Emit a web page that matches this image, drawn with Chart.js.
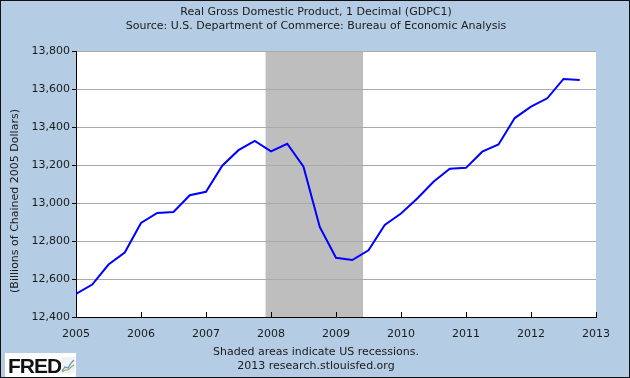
<!DOCTYPE html>
<html>
<head>
<meta charset="utf-8">
<script src="https://cdn.jsdelivr.net/npm/chart.js@4.4.1/dist/chart.umd.min.js"></script>
<style>
  html, body { margin: 0; padding: 0; background: #b4cde4; }
  #wrap { position: relative; width: 630px; height: 378px; box-sizing: border-box; border: 1px solid #111; background: #b4cde4; overflow: hidden; }
  #c { position: absolute; left: -1px; top: -1px; }
  .txt { position: absolute; left: 0; width: 630px; text-align: center; font-family: "DejaVu Sans", Verdana, sans-serif; font-size: 11px; color: #1a1a1a; line-height: 13px; white-space: nowrap; }
  #logo { position: absolute; left: 4px; top: 352px; width: 71px; height: 24px; background: #fff; }
  #logo span { position: absolute; left: 3px; top: 1px; font-family: "Liberation Sans", Arial, sans-serif; font-weight: bold; font-size: 21px; letter-spacing: -1px; color: #111; }
</style>
</head>
<body>
<div id="wrap">
  <canvas id="c" width="630" height="378"></canvas>
  <div class="txt" style="top:4px">Real Gross Domestic Product, 1 Decimal (GDPC1)</div>
  <div class="txt" style="top:18px">Source: U.S. Department of Commerce: Bureau of Economic Analysis</div>
  <div class="txt" style="top:344px">Shaded areas indicate US recessions.</div>
  <div class="txt" style="top:358px">2013 research.stlouisfed.org</div>
  <div id="logo"><span>FRED</span>
    <svg style="position:absolute;left:56px;top:4px" width="14" height="16" viewBox="0 0 14 16">
      <rect x="0" y="0" width="14" height="16" fill="#eef3f6"/>
      <polyline points="1,14 4,10 7,11 10,6 13,3" fill="none" stroke="#6a8fb5" stroke-width="1.2"/>
      <polyline points="1,15 4,13 7,13 10,10 13,8" fill="none" stroke="#8ab060" stroke-width="1.2"/>
    </svg>
  </div>
</div>
<script>
// Quarterly observations (decimal year of quarter start)
const quarters = [
  2005.00, 2005.25, 2005.50, 2005.75,
  2006.00, 2006.25, 2006.50, 2006.75,
  2007.00, 2007.25, 2007.50, 2007.75,
  2008.00, 2008.25, 2008.50, 2008.75,
  2009.00, 2009.25, 2009.50, 2009.75,
  2010.00, 2010.25, 2010.50, 2010.75,
  2011.00, 2011.25, 2011.50, 2011.75,
  2012.00, 2012.25, 2012.50, 2012.75
];
const gdp = [
  12522, 12571, 12676, 12739,
  12895, 12948, 12953, 13041,
  13059, 13196, 13278, 13327,
  13272, 13312, 13191, 12874,
  12712, 12700, 12751, 12885,
  12945, 13024, 13112, 13180,
  13185, 13270, 13308, 13447,
  13507, 13551, 13653, 13648
];
const yTicks = [12400, 12600, 12800, 13000, 13200, 13400, 13600, 13800];
const xTicks = [2005, 2006, 2007, 2008, 2009, 2010, 2011, 2012, 2013];
// Recession: Dec 2007 to Jun 2009
const recessionStart = 2007 + 11/12;
const recessionEnd = 2009 + 5/12;
const yTitle = '(Billions of Chained 2005 Dollars)';

const FONT = { family: '"DejaVu Sans", Verdana, sans-serif', size: 11 };

const plotBg = {
  id: 'plotBg',
  beforeDraw(chart) {
    const { ctx, chartArea: a, scales } = chart;
    ctx.save();
    ctx.fillStyle = '#ffffff';
    ctx.fillRect(a.left, a.top, a.right - a.left, a.bottom - a.top);
    const x0 = scales.x.getPixelForValue(recessionStart);
    const x1 = scales.x.getPixelForValue(recessionEnd);
    ctx.fillStyle = '#bebebe';
    ctx.fillRect(x0, a.top, x1 - x0, a.bottom - a.top);
    ctx.restore();
  },
  afterDatasetsDraw(chart) {
    const { ctx, chartArea: a, scales } = chart;
    ctx.save();
    ctx.strokeStyle = '#000';
    ctx.lineWidth = 1;
    ctx.beginPath();
    xTicks.forEach(v => {
      const px = Math.round(scales.x.getPixelForValue(v)) + 0.5;
      ctx.moveTo(px, a.bottom);
      ctx.lineTo(px, a.bottom - 5);
    });
    ctx.stroke();
    // rotated y-axis title
    ctx.translate(15, 201);
    ctx.rotate(-Math.PI / 2);
    ctx.fillStyle = '#1a1a1a';
    ctx.font = '11px "DejaVu Sans", Verdana, sans-serif';
    ctx.textAlign = 'center';
    ctx.textBaseline = 'middle';
    ctx.fillText(yTitle, 0, 0);
    ctx.restore();
  }
};

new Chart(document.getElementById('c'), {
  type: 'line',
  data: {
    datasets: [{
      data: quarters.map((q, i) => ({ x: q, y: gdp[i] })),
      borderColor: '#0000ff',
      borderWidth: 2,
      pointRadius: 0,
      tension: 0,
      fill: false
    }]
  },
  options: {
    responsive: false,
    animation: false,
    devicePixelRatio: 1,
    layout: { padding: { left: 0, top: 51, right: 34, bottom: 0 } },
    plugins: { legend: { display: false }, tooltip: { enabled: false } },
    scales: {
      x: {
        type: 'linear',
        min: 2005, max: 2013,
        afterBuildTicks: s => { s.ticks = xTicks.map(v => ({ value: v })); },
        afterFit: s => { s.height = 61; },
        grid: { display: false },
        border: { color: '#000', width: 1 },
        ticks: { color: '#1a1a1a', font: FONT, padding: 3, maxRotation: 0, callback: v => String(v) }
      },
      y: {
        min: 12400, max: 13800,
        afterBuildTicks: s => { s.ticks = yTicks.map(v => ({ value: v })); },
        afterFit: s => { s.width = 76; },
        grid: { color: '#aaaaaa', lineWidth: 1, tickLength: 4, tickColor: '#000' },
        border: { color: '#000', width: 1 },
        ticks: { color: '#1a1a1a', font: FONT, padding: 2, callback: v => v.toLocaleString('en-US') }
      }
    }
  },
  plugins: [plotBg]
});
</script>
</body>
</html>
